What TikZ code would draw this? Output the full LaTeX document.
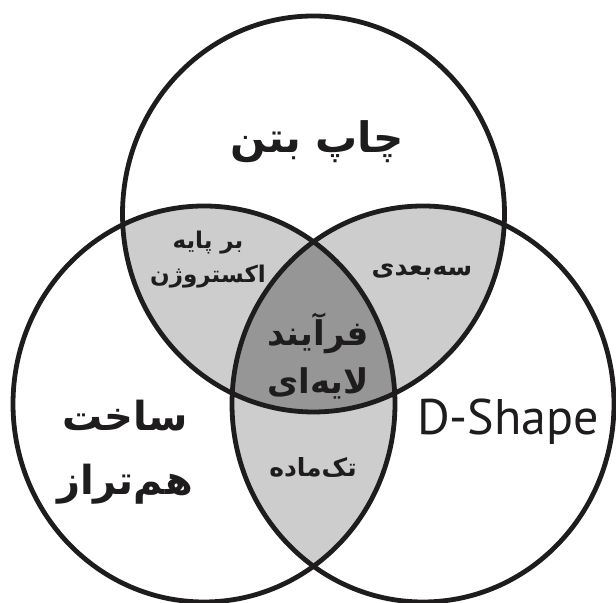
\documentclass[tikz,border=0pt]{standalone}
\usepackage{fontspec}
\newfontfamily\fafont[Script=Arabic]{DejaVu Sans}
\newfontfamily\latfont{PT Sans}
\TeXXeTstate=1
\usetikzlibrary{positioning}
\definecolor{fg}{RGB}{30,28,29}
\definecolor{pair}{RGB}{205,205,205}
\definecolor{core}{RGB}{150,150,150}
\newcommand{\fa}[1]{{\fafont\bfseries\beginR #1\endR}}
\tikzset{
  every picture/.style={fg, x=0.5pt, y=0.5pt, line cap=round, line join=round},
  % Kreise
  ring/.style={x radius=191, y radius=198},
  rim/.style={line width=2.4pt},
  pairfill/.style={fill=pair},
  corefill/.style={fill=core},
  % Beschriftung
  big/.style={font=\fontsize{21}{32}\selectfont, align=center, inner sep=0pt},
  mid/.style={font=\fontsize{17}{24}\selectfont, align=center, inner sep=0pt},
  small/.style={font=\fontsize{12.5}{17}\selectfont, align=center, inner sep=0pt},
}
\begin{document}
\begin{tikzpicture}
  \useasboundingbox (0,0) rectangle (616,603);
  \coordinate (T) at (313.5,389);
  \coordinate (L) at (204,199);
  \coordinate (R) at (423,199);
  % Schnittflaechen
  \begin{scope}
    \clip (T) ellipse [ring];
    \fill[pairfill] (L) ellipse [ring];
    \fill[pairfill] (R) ellipse [ring];
  \end{scope}
  \begin{scope}
    \clip (L) ellipse [ring];
    \fill[pairfill] (R) ellipse [ring];
  \end{scope}
  \begin{scope}
    \clip (T) ellipse [ring];
    \clip (L) ellipse [ring];
    \fill[corefill] (R) ellipse [ring];
  \end{scope}
  % Umrisse
  \draw[rim] (T) ellipse [ring];
  \draw[rim] (L) ellipse [ring];
  \draw[rim] (R) ellipse [ring];
  % Beschriftung
  \node[big] (print) at (317,461) {\fa{چاپ بتن}};
  \node[small, font=\fontsize{11.5}{17}\selectfont] (extrude) at (208,343) {\fa{بر پایه}\\\fa{اکستروژن}};
  \node[small] (threed) at (422,331) {\fa{سه‌بعدی}};
  \node[mid] (layer) at (318,247) {\fa{فرآیند}\\\fa{لایه‌ای}};
  \node[big, font=\fontsize{20}{32}\selectfont] (contour) at (125,151) {\fa{ساخت}\\\fa{هم‌تراز}};
  \node[small] (single) at (313,136) {\fa{تک‌ماده}};
  \node[big, font=\latfont\fontsize{25}{28}\selectfont] (dshape) at (508,181) {D-Shape};
\end{tikzpicture}
\end{document}
